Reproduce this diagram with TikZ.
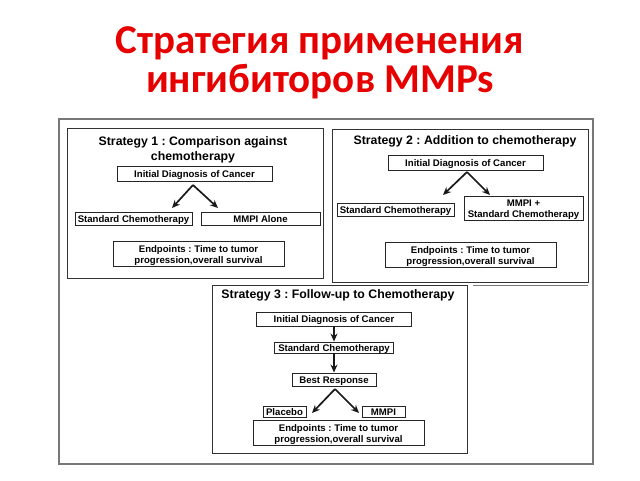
\documentclass[tikz,border=0pt]{standalone}
\usepackage{fontspec}
\setmainfont{Liberation Sans}
\newfontfamily\titlefont{Carlito}
\usetikzlibrary{arrows.meta}
\definecolor{titlered}{RGB}{230,0,0}
\definecolor{framegray}{RGB}{120,120,120}
\frenchspacing
\newcommand{\topstrut}{\rule{0pt}{10.5pt}}
\begin{document}
\begin{tikzpicture}[x=1pt,y=-1pt,
  box/.style={draw=black!85,line width=0.9pt,inner sep=0pt,font=\bfseries\fontsize{9.6}{12}\selectfont,text height=7.5pt,text depth=0pt},
  mbox/.style={draw=black!85,line width=0.9pt,inner sep=0pt,font=\bfseries\fontsize{9.6}{11}\selectfont,align=center},
  panel/.style={draw=black!80,line width=1pt},
  heading/.style={font=\bfseries\fontsize{12.3}{15}\selectfont,align=center,inner sep=0pt},
  ttl/.style={font=\titlefont\bfseries\fontsize{41}{43}\selectfont,text=titlered,anchor=base},
  arr/.style={-{Stealth[length=8pt,width=7pt]},line width=1.7pt,black!90}]
\useasboundingbox (0,0) rectangle (640,480);
% title
\node[ttl] (title1) at (320,53) {Стратегия применения};
\node[ttl] (title2) at (320,92) {ингибиторов MMPs};
% outer frame
\draw[draw=framegray,line width=1.1pt] (59,119) rectangle (593,464);
\draw[draw=framegray,line width=1pt] (473,285) -- (588,285);
% panels
\draw[panel] (67,128) rectangle (323,278);
\draw[panel] (332,129) rectangle (588,282);
\draw[panel] (212,285) rectangle (467,453);
% Strategy 1
\node[heading] (h1) at (193,149.5) {Strategy 1 : Comparison against\\chemotherapy};
\node[box,minimum width=155,minimum height=15] (i1) at (194.5,173.5) {Initial Diagnosis of Cancer};
\node[box,minimum width=117,minimum height=13] (s1) at (133.5,218.5) {Standard Chemotherapy};
\node[box,minimum width=119,minimum height=13] (m1) at (260.5,218.5) {MMPI Alone};
\node[mbox,minimum width=171,minimum height=25] (e1) at (198.5,253.5) {\topstrut Endpoints : Time to tumor\\progression,overall survival};
\coordinate (a1) at (193,185);
\coordinate (l1) at (172,208);
\coordinate (r1) at (218,208);
\draw[arr] (a1) -- (l1);
\draw[arr] (a1) -- (r1);
% Strategy 2
\node[heading] (h2) at (465,141) {Strategy 2 : Addition to chemotherapy};
\node[box,minimum width=155,minimum height=15] (i2) at (465.5,162.5) {Initial Diagnosis of Cancer};
\node[box,minimum width=117,minimum height=13] (s2) at (395.5,209.5) {Standard Chemotherapy};
\node[mbox,minimum width=119,minimum height=24] (m2) at (523.5,208) {\topstrut MMPI +\\Standard Chemotherapy};
\node[mbox,minimum width=171,minimum height=25] (e2) at (470.5,254.5) {\topstrut Endpoints : Time to tumor\\progression,overall survival};
\coordinate (a2) at (467,172);
\coordinate (l2) at (443,195);
\coordinate (r2) at (490,195);
\draw[arr] (a2) -- (l2);
\draw[arr] (a2) -- (r2);
% Strategy 3
\node[heading] (h3) at (338,295) {Strategy 3 : Follow-up to Chemotherapy};
\node[box,minimum width=155,minimum height=14] (i3) at (334,319) {Initial Diagnosis of Cancer};
\node[box,minimum width=119,minimum height=11] (s3) at (334,347.5) {Standard Chemotherapy};
\node[box,minimum width=84,minimum height=13] (b3) at (334,379.5) {Best Response};
\node[box,minimum width=43,minimum height=11] (p3) at (284.5,411.5) {Placebo};
\node[box,minimum width=43,minimum height=11] (m3) at (383.5,411.5) {MMPI};
\node[mbox,minimum width=171,minimum height=25] (e3) at (338.5,432.5) {\topstrut Endpoints : Time to tumor\\progression,overall survival};
\draw[arr] (i3.south) -- (s3.north);
\draw[arr] (s3.south) -- (b3.north);
\coordinate (a3) at (335,389);
\coordinate (l3) at (312,413);
\coordinate (r3) at (359,413);
\draw[arr] (a3) -- (l3);
\draw[arr] (a3) -- (r3);
\end{tikzpicture}
\end{document}
